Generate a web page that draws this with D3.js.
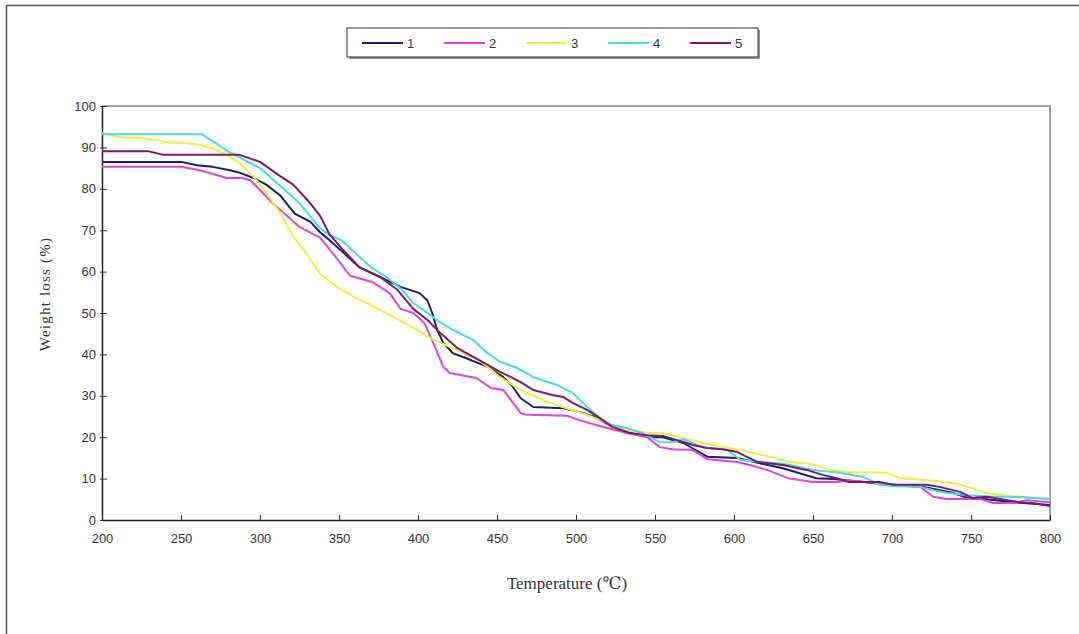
<!DOCTYPE html>
<html>
<head>
<meta charset="utf-8">
<script src="https://cdn.jsdelivr.net/npm/d3@7"></script>
<style>
  html, body { margin: 0; padding: 0; background: #fff; }
  svg { display: block; }
</style>
</head>
<body>
<svg id="chart" width="1079" height="634"></svg>
<script>
// ---- data ----
const seriesNames = ["1", "2", "3", "4", "5"];
const seriesColors = ["#1c1c6e", "#dd44dd", "#eeee44", "#44dddd", "#7a1a6e"];

const xTicks = [200, 250, 300, 350, 400, 450, 500, 550, 600, 650, 700, 750, 800];
const yTicks = [0, 10, 20, 30, 40, 50, 60, 70, 80, 90, 100];

const s1T = [200,250,260,270,281,287,296,304,313,322,332,338,344,351,363,376,389,401,406,409,412,416,422,431,444,454,460,465,473,492,503,511,521,534,547,555,568,583,602,615,631,652,663,699,720,739,748,760,777,800];
const s1V = [86.5,86.5,85.7,85.3,84.5,83.9,82.6,81,78.3,74,72,69.5,67.6,65.2,61,58.7,56.3,54.8,53,50,46,42.8,40.3,39,37,34.5,32.2,29.4,27.3,27,26,25,23,21,20,20,18.6,15.3,15,13.8,12.5,10.1,9.9,8.5,8,6.5,5.3,5,4.3,3.6];

const s2T = [200,250,262,279,289,294,300,308,317,325,338,347,357,371,382,389,397,404,410,416,420,437,446,454,465,469,494,503,515,532,545,553,561,574,583,602,610,621,634,650,665,672,692,718,726,735,756,764,777,785,800];
const s2V = [85.3,85.3,84.5,82.6,82.6,82,79.7,76.5,73.5,70.8,68.2,64,59,57.5,54.8,51,50,47.6,42.5,37,35.5,34.3,31.9,31.4,25.8,25.4,25.2,24,22.7,21,20,17.6,17.1,16.9,14.7,14,13.3,12.1,10.1,9.2,9.2,9.6,8.9,8,5.6,5.1,5.1,4.1,4.1,4.8,4.3];

const s3T = [200,211,224,235,239,254,262,270,279,287,296,304,313,321,330,338,348,361,374,387,399,410,425,439,452,465,482,494,507,515,522,532,547,555,568,580,596,610,623,635,648,661,673,697,705,720,739,751,760,777,789,800];
const s3V = [93.5,92.5,92.2,91.8,91.3,91,90.6,89.8,88.2,86.2,82.9,79,74,68.5,64,59.5,56.5,53.6,51.2,48.5,46,43.5,41,38.5,34.5,31.4,28.5,27,25.4,24.2,23,21.7,21,21,19.8,18.6,17.4,16.4,15.2,14,13.6,12.1,11.6,11.4,10.1,9.7,8.9,7.7,6.5,5.6,5.3,5.1];

const s4T = [200,263,270,280,290,300,312,325,338,344,352,363,370,380,390,397,406,412,422,435,444,452,463,473,488,498,507,515,522,532,542,553,561,568,580,596,604,618,631,650,667,682,692,701,718,726,735,748,764,781,789,800];
const s4V = [93.2,93.2,91.5,89,87,85,81,76.5,70.5,68.8,67.5,63.5,61.1,58.7,55.6,52.4,50,48.3,45.9,43.5,40.3,38.2,36.7,34.5,32.6,30.7,27.3,24.7,23,22.2,21,18.8,18.8,19.5,17.6,16.9,14.5,14,13.6,12.1,11.4,10.4,8.5,8.2,8,7.2,6.5,6,5.6,5.6,5.3,5.1];

const s5T = [200,229,239,287,300,313,321,330,338,344,352,363,376,387,397,406,414,425,437,452,465,473,485,492,498,507,515,523,534,545,555,564,574,583,593,602,615,631,646,656,665,672,692,701,722,730,743,751,760,773,781,789,800];
const s5V = [89.1,89.1,88.2,88.2,86.5,83,81,77.3,73.5,69,65.5,61,58.7,55.6,51,48.3,45.2,41.5,39,35.8,33.3,31.4,30.2,29.7,28.3,26.6,24.6,22.5,21,20.5,20.3,19.3,18.1,17.4,17.1,16.4,14,13.3,12.1,10.9,10.1,9.2,9.2,8.5,8.5,8,6.8,5.3,5.6,4.8,4.3,4.1,3.4];

const seriesT = [s1T, s2T, s3T, s4T, s5T];
const seriesV = [s1V, s2V, s3V, s4V, s5V];

// ---- layout ----
const svg = d3.select("#chart");
const W = 1079, H = 634;
const plot = { left: 102, right: 1050, top: 106, bottom: 520 };

svg.append("rect").attr("x", 0).attr("y", 0).attr("width", W).attr("height", H).attr("fill", "#fff");

// outer frame (left and top edges visible)
svg.append("path")
  .attr("d", `M6.5,${H} V5.5 H${W}`)
  .attr("fill", "none").attr("stroke", "#555").attr("stroke-width", 1.5);

const x = d3.scaleLinear().domain([200, 800]).range([plot.left, plot.right]);
const y = d3.scaleLinear().domain([0, 100]).range([plot.bottom, plot.top]);

// plot area frame (top & right grey)
svg.append("path")
  .attr("d", `M${plot.left},${plot.top} H${plot.right} V${plot.bottom}`)
  .attr("fill", "none").attr("stroke", "#808080").attr("stroke-width", 1.5);

// y axis
const yAxis = d3.axisLeft(y).tickValues(yTicks).tickSize(0).tickPadding(6);
const gy = svg.append("g").attr("transform", `translate(${plot.left},0)`).call(yAxis);
gy.select(".domain").attr("stroke", "#222").attr("stroke-width", 1.5);
gy.selectAll(".tick line").remove();
gy.selectAll(".tick").append("line")
  .attr("x1", -2).attr("x2", 5).attr("stroke", "#333").attr("stroke-width", 1);
gy.selectAll(".tick text")
  .attr("font-family", "Liberation Sans, Arial, sans-serif")
  .attr("font-size", 13).attr("fill", "#333");

// x axis
const xAxis = d3.axisBottom(x).tickValues(xTicks).tickSize(0).tickPadding(14);
const gx = svg.append("g").attr("transform", `translate(0,${plot.bottom})`).call(xAxis);
gx.select(".domain").attr("stroke", "#222").attr("stroke-width", 1.5);
gx.selectAll(".tick line").remove();
gx.selectAll(".tick").append("line")
  .attr("y1", 0).attr("y2", -5).attr("stroke", "#333").attr("stroke-width", 1);
gx.selectAll(".tick text")
  .attr("font-family", "Liberation Sans, Arial, sans-serif")
  .attr("font-size", 13).attr("fill", "#333");

// axis titles
svg.append("text")
  .attr("transform", `translate(50,294) rotate(-90)`)
  .attr("text-anchor", "middle")
  .attr("font-family", "Liberation Serif, DejaVu Serif, serif")
  .attr("font-size", 15).attr("letter-spacing", 1.2).attr("fill", "#333")
  .text("Weight loss (%)");

svg.append("text")
  .attr("x", 567).attr("y", 589)
  .attr("text-anchor", "middle")
  .attr("font-family", "Liberation Serif, DejaVu Serif, serif")
  .attr("font-size", 17).attr("fill", "#333")
  .text("Temperature (℃)");

// lines
const line = d3.line().x(d => x(d[0])).y(d => y(d[1]));
seriesNames.forEach((name, i) => {
  const pts = seriesT[i].map((t, j) => [t, seriesV[i][j]]);
  svg.append("path")
    .datum(pts)
    .attr("d", line)
    .attr("fill", "none")
    .attr("stroke", seriesColors[i])
    .attr("stroke-width", 2)
    .attr("stroke-linejoin", "round");
});

// legend
const lg = { x: 347, y: 28, w: 411, h: 29 };
svg.append("rect").attr("x", lg.x + 2).attr("y", lg.y + 2).attr("width", lg.w).attr("height", lg.h).attr("fill", "#999");
svg.append("rect").attr("x", lg.x).attr("y", lg.y).attr("width", lg.w).attr("height", lg.h)
  .attr("fill", "#fff").attr("stroke", "#333").attr("stroke-width", 1);
const legendX = d3.scalePoint().domain(seriesNames).range([362, 690]);
seriesNames.forEach((name, i) => {
  const lx = legendX(name);
  svg.append("line").attr("x1", lx).attr("x2", lx + 41)
    .attr("y1", lg.y + 15).attr("y2", lg.y + 15)
    .attr("stroke", seriesColors[i]).attr("stroke-width", 2);
  svg.append("text").attr("x", lx + 45).attr("y", lg.y + 20)
    .attr("font-family", "Liberation Sans, Arial, sans-serif")
    .attr("font-size", 13).attr("fill", "#333")
    .text(name);
});
</script>
</body>
</html>
